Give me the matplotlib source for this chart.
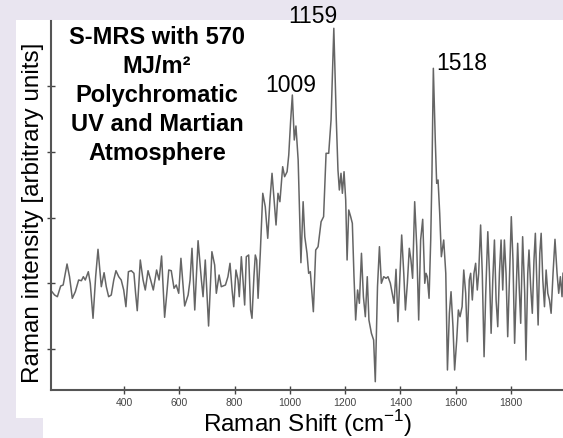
import numpy as np
import matplotlib
matplotlib.use("Agg")
import matplotlib.pyplot as plt
from matplotlib.patches import Rectangle

plt.rcParams['font.family'] = ['Liberation Sans', 'DejaVu Sans']
plt.rcParams['mathtext.fontset'] = 'custom'
plt.rcParams['mathtext.rm'] = 'Liberation Sans'

# spectrum (Raman shift in cm-1, intensity in arbitrary units)
raman_shift = [
    139.5, 149, 159, 171, 180, 194, 203, 213, 224, 236, 246, 253, 260, 271, 278,
    288, 297.5, 306, 318, 328, 336, 344.5, 354, 363, 371, 381, 390, 399, 407, 416,
    426.5, 436, 442, 448, 459, 469, 477, 487, 496.5, 506, 518, 527, 536, 547, 556,
    562, 571, 581, 589, 598, 606, 619.5, 632, 639, 646, 656, 668, 680, 686, 694,
    706, 718, 728, 734, 744, 752,
    767, 776, 783.5, 791, 797, 805, 812.5, 817, 824.5, 830.5, 836.5, 842.5, 851,
    858, 863, 870, 875, 880, 885, 893, 902, 911, 920, 928, 935.5, 943, 950, 957,
    964, 974, 981, 990, 996, 1003, 1009, 1016, 1022, 1030, 1036, 1040, 1048, 1054,
    1062, 1068, 1074, 1085, 1093.5, 1102, 1113, 1122, 1131, 1140.5, 1149, 1159,
    1168, 1174, 1179, 1185, 1190, 1196, 1202, 1207, 1213, 1220, 1226, 1232, 1238,
    1245, 1251.5, 1259, 1266, 1273, 1280, 1286, 1295, 1303, 1309, 1317, 1324, 1331,
    1339.5, 1348, 1355, 1363.5,
    1377, 1384, 1391, 1398.5, 1404.5, 1412, 1418, 1425, 1432, 1438, 1444, 1451.5,
    1459, 1466, 1473, 1480.5, 1488, 1492.5, 1497, 1503.5, 1509.5, 1514, 1519, 1526,
    1531, 1536, 1542, 1548, 1556.5, 1564, 1570, 1577, 1583, 1590, 1596, 1603.5,
    1609.5, 1615.5, 1623, 1629, 1636, 1642, 1649, 1654, 1660, 1666, 1672, 1678,
    1683, 1690, 1696, 1702.5, 1708.5, 1716, 1722, 1728, 1734, 1740, 1746, 1752,
    1758, 1764, 1770, 1776, 1782, 1788, 1795, 1801, 1807, 1813, 1820.5, 1824, 1830,
    1835, 1842, 1849.5, 1854, 1860.5, 1865, 1871, 1877, 1883, 1888, 1894, 1898,
    1904, 1909, 1915, 1921, 1927, 1933, 1939, 1945, 1952, 1959, 1966.5, 1972.5,
    1978.5, 1984.5, 1988,
]
intensity = [
    98.3, 95, 93.3, 104, 105, 126, 113.3, 91.7, 98.3, 110, 109.3, 113.3, 110, 118.3, 106.7,
    71.7, 113.3, 140.7, 103.3, 117.3, 103.3, 93.3, 95, 110, 119.3, 113.3, 110, 100, 83.3, 118.3,
    119.3, 116.7, 96.7, 79.3, 130, 110, 100, 119.3, 110, 100, 120, 110, 134, 72.7, 100,
    120, 119.3, 101.7, 105, 96.7, 131.7, 84, 95, 110, 141.7, 80, 149.3, 110, 93.3, 130,
    64, 138.3, 125, 96.7, 115, 103.3,
    105, 113.3, 126.7, 100, 83.3, 120, 110, 93.3, 133.3, 110, 85, 133.3, 135,
    80, 71.7, 113.3, 135, 130, 91.7, 136.7, 196.7, 183.3, 151.7, 190, 216.7, 190, 165, 196.7,
    188.3, 223.3, 213.3, 218.3, 235, 270, 295, 250, 264, 230, 170, 127.3, 188.3, 153.3,
    136.7, 116.7, 118.3, 78.3, 140, 143.3, 168.3, 173.3, 236.7, 236.7, 270, 361.7,
    270, 220, 200, 216.7, 196.7, 218.3, 190, 130, 180, 173.3, 166.7, 113.3, 70,
    100, 86.7, 136.7, 93.3, 73.3, 113.3, 70, 56.7, 50, 8.3, 103.3, 143.3, 106.7,
    113.3, 111.7, 113.3, 106.7,
    86.7, 120.7, 68.3, 116.7, 155, 116.7, 80, 106.7, 141.7, 130, 111.7, 188.3,
    143.3, 70, 150, 170.7, 106.7, 116.7, 113.3, 91.7, 150, 216.7, 321.7, 250,
    206.7, 210, 176.7, 133.3, 150, 116.7, 20, 76.7, 98.3, 63.3, 20, 50,
    80, 73.3, 83.3, 120, 96.7, 48.3, 110, 116.7, 90, 116.7, 126.7, 100,
    116.7, 165, 116.7, 33.3, 96.7, 158.3, 116.7, 56.7, 110, 150, 90, 63.3,
    116.7, 150, 100, 150, 116.7, 53.3, 116.7, 173.3, 130, 46.7, 116.7, 146.7, 100,
    66.7, 153.3, 96.7, 30, 116.7, 140, 103.3, 76.7, 130, 156.7, 100, 65,
    136.7, 156.7, 110, 83.3, 120, 96.7, 90, 76.7, 116.7, 150.7, 116.7, 96.7,
    113.3, 93.3, 116.7,
]

peak_labels = ['1009', '1159', '1518']
peak_label_x = [1004, 1082, 1621]
peak_label_y = [298, 367, 320]

xticks = [400, 600, 800, 1000, 1200, 1400, 1600, 1800]
yticks = [41, 107, 172, 238, 304]

bg = '#E9E5F0'
fig = plt.figure(figsize=(5.63, 4.38), dpi=100, facecolor=bg)
# white panels behind the chart
fig.patches.append(Rectangle((16/563, 20/438), 1 - 16/563, 398/438,
                             transform=fig.transFigure, fc='white', ec='none', zorder=-10))
fig.patches.append(Rectangle((43/563, 0), 1 - 43/563, 21/438,
                             transform=fig.transFigure, fc='white', ec='none', zorder=-10))

ax = fig.add_axes([51/563, 48/438, 512/563, 369/438])
ax.set_facecolor('none')
ax.plot(raman_shift, intensity, color='#656565', lw=1.1)

ax.set_xlim(136, 1988)
ax.set_ylim(0, 369)
ax.spines['top'].set_visible(False)
ax.spines['right'].set_visible(False)
for s in ['left', 'bottom']:
    ax.spines[s].set_color('#555555')
    ax.spines[s].set_linewidth(1.5)

ax.set_xticks(xticks)
ax.set_xticklabels([str(t) for t in xticks])
ax.set_yticks(yticks)
ax.set_yticklabels([])
ax.tick_params(direction='inout', length=6, width=1, color='#444444',
               labelsize=7.5, labelcolor='#444444', pad=3)

ax.set_xlabel('Raman Shift (cm$^{\\mathrm{-1}}$)', fontsize=17.5)
ax.xaxis.set_label_coords(0.502, -0.05)
ax.xaxis.label.set_va('top')
ax.set_ylabel('Raman intensity [arbitrary units]', fontsize=17.5)
ax.yaxis.set_label_coords(-0.014, 0.481)

for lab, x, y in zip(peak_labels, peak_label_x, peak_label_y):
    ax.text(x, y, lab, ha='center', va='baseline', fontsize=16.5, clip_on=False)

fig.text(157/563, 1 - 160/438,
         'S-MRS with 570\nMJ/m\u00b2\nPolychromatic\nUV and Martian\nAtmosphere',
         ha='center', va='baseline', multialignment='center',
         fontsize=17, fontweight='bold', linespacing=1.34)

fig.savefig('out.png', dpi=100, facecolor=fig.get_facecolor())
